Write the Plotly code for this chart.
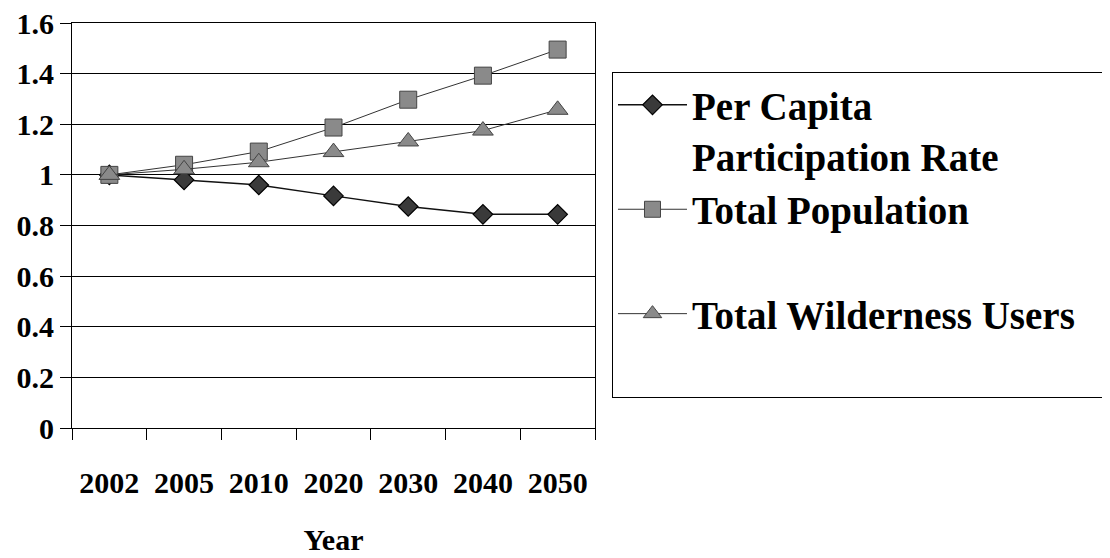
import plotly.graph_objects as go

years = ["2002", "2005", "2010", "2020", "2030", "2040", "2050"]
per_capita = [1.0, 0.98, 0.96, 0.917, 0.875, 0.844, 0.844]
total_population = [1.0, 1.04, 1.092, 1.187, 1.297, 1.392, 1.495]
wilderness_users = [1.0, 1.022, 1.05, 1.09, 1.132, 1.175, 1.257]
y_ticks = [0, 0.2, 0.4, 0.6, 0.8, 1.0, 1.2, 1.4, 1.6]
y_labels = ["0", "0.2", "0.4", "0.6", "0.8", "1", "1.2", "1.4", "1.6"]

FONT = "Liberation Serif, Times New Roman, serif"
NB = "\u00a0"

fig = go.Figure()
fig.add_trace(go.Scatter(
    x=years, y=per_capita, mode="lines+markers",
    name="Per Capita<br>Participation Rate",
    line=dict(color="#111111", width=1.5),
    marker=dict(symbol="diamond", size=15, color="#3a3a3a",
                line=dict(color="#000000", width=1.2)),
))
fig.add_trace(go.Scatter(
    x=years, y=total_population, mode="lines+markers",
    name="Total Population<br>" + NB,
    line=dict(color="#333333", width=1),
    marker=dict(symbol="square", size=17, color="#8a8a8a",
                line=dict(color="#444444", width=1)),
))
fig.add_trace(go.Scatter(
    x=years, y=wilderness_users, mode="lines+markers",
    name="Total Wilderness Users" + NB * 3 + "<br>" + NB,
    line=dict(color="#333333", width=1),
    marker=dict(symbol="triangle-up", size=18, color="#8a8a8a",
                line=dict(color="#444444", width=1)),
))

fig.update_layout(
    width=1110, height=558,
    margin=dict(l=64, r=523, t=15, b=138, autoexpand=False),
    paper_bgcolor="white", plot_bgcolor="white",
    font=dict(family=FONT, size=30, color="black", weight="bold"),
    showlegend=True,
    legend=dict(
        x=1.0325, xanchor="left", y=0.879, yanchor="top",
        bordercolor="black", borderwidth=1, bgcolor="white",
        font=dict(family=FONT, size=39, color="black", weight="bold"),
        valign="top", itemwidth=69, tracegroupgap=0,
    ),
    xaxis=dict(
        type="category", range=[-0.5, 6.5], automargin=False,
        tickson="boundaries", ticks="outside", ticklen=11,
        tickcolor="black", tickwidth=1,
        showline=True, linecolor="black", linewidth=1, mirror=True,
        showgrid=False, ticklabelstandoff=28,
        tickfont=dict(size=30),
        title=dict(text="Year", font=dict(size=30), standoff=30),
    ),
    yaxis=dict(
        range=[0, 1.6], tickvals=y_ticks, ticktext=y_labels, automargin=False,
        ticks="outside", ticklen=11, tickcolor="black", tickwidth=1,
        ticklabeloverflow="allow",
        showline=True, linecolor="black", linewidth=1, mirror=True,
        showgrid=True, gridcolor="black", gridwidth=1,
        zeroline=False, tickfont=dict(size=30),
    ),
)

fig.write_html("out.html")
